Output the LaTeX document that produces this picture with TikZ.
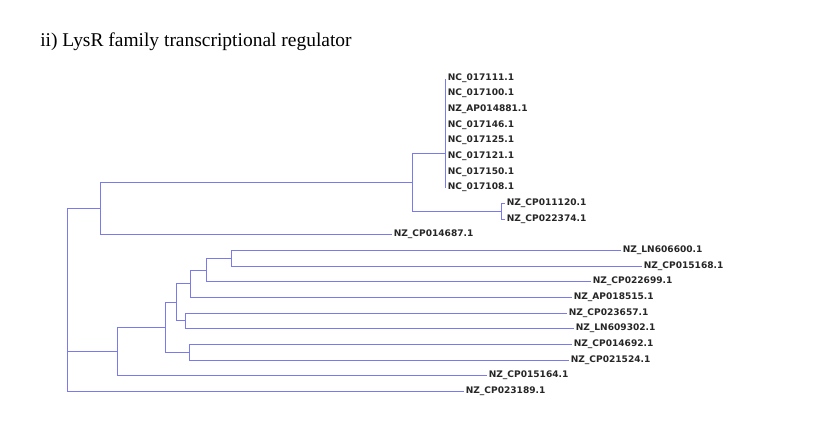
\documentclass[tikz,border=0pt]{standalone}
\usepackage{fontspec}
\setmainfont{Liberation Serif}
\newfontfamily\leaffont{DejaVu Sans}
\usetikzlibrary{positioning}
\definecolor{treeblue}{RGB}{122,122,234}
\tikzset{
  branch/.style={draw=treeblue, line width=1.1pt},
  leaflabel/.style={anchor=west, inner sep=1.5pt, text=black!85,
    font=\leaffont\bfseries\fontsize{6.8}{8}\selectfont},
  titlelabel/.style={anchor=base west, inner sep=0pt, font=\fontsize{14.6}{17}\selectfont}
}

\begin{document}
\begin{tikzpicture}[x=0.75pt, y=-0.75pt]
    \useasboundingbox (0,0) rectangle (831,429);
    \node[titlelabel] (title) at (40,46) {ii) LysR family transcriptional regulator};

    % inner nodes of the tree
    \coordinate (root) at (67.5,300.5);
    \coordinate (upper) at (100.5,208.5);
    \coordinate (cladeA) at (412.5,182.5);
    \coordinate (poly) at (445.5,153.5);
    \coordinate (cladeB) at (501.5,211.5);
    \coordinate (lower) at (117.5,351.5);
    \coordinate (cladeM) at (165.5,327.5);
    \coordinate (cladeN1) at (176.5,302.5);
    \coordinate (cladeN3) at (190.5,283.5);
    \coordinate (cladeN5) at (206.5,270.5);
    \coordinate (cladeN6) at (231.5,258.5);
    \coordinate (cladeN4) at (185.5,320.5);
    \coordinate (cladeN2) at (189.5,352.5);

    % collapsed group
    \foreach \lab/\yy [count=\k from 0] in {NC\_017111.1/78.5, NC\_017100.1/93.5,
        NZ\_AP014881.1/109.5, NC\_017146.1/125.5, NC\_017125.1/140.5,
        NC\_017121.1/156.5, NC\_017150.1/172.5, NC\_017108.1/187.5} {
      \node[leaflabel] (p\k) at (445.5,\yy) {\lab};
      \draw[branch] (poly) |- (p\k.west);
    }

    % leaves
    \node[leaflabel] (cp011120) at (504.5,203.5) {NZ\_CP011120.1};
    \node[leaflabel] (cp022374) at (504.5,219.5) {NZ\_CP022374.1};
    \node[leaflabel] (cp014687) at (391.5,234.5) {NZ\_CP014687.1};
    \node[leaflabel] (ln606600) at (620.5,250.5) {NZ\_LN606600.1};
    \node[leaflabel] (cp015168) at (641.5,266.5) {NZ\_CP015168.1};
    \node[leaflabel] (cp022699) at (590.5,281.5) {NZ\_CP022699.1};
    \node[leaflabel] (ap018515) at (571.5,297.5) {NZ\_AP018515.1};
    \node[leaflabel] (cp023657) at (566.5,313.5) {NZ\_CP023657.1};
    \node[leaflabel] (ln609302) at (573.5,328.5) {NZ\_LN609302.1};
    \node[leaflabel] (cp014692) at (571.5,344.5) {NZ\_CP014692.1};
    \node[leaflabel] (cp021524) at (568.5,360.5) {NZ\_CP021524.1};
    \node[leaflabel] (cp015164) at (486.5,375.5) {NZ\_CP015164.1};
    \node[leaflabel] (cp023189) at (463.5,391.5) {NZ\_CP023189.1};

    % branches
    \draw[branch] (root) |- (upper);
    \draw[branch] (root) |- (lower);
    \draw[branch] (root) |- (cp023189.west);
    \draw[branch] (upper) |- (cladeA);
    \draw[branch] (upper) |- (cp014687.west);
    \draw[branch] (cladeA) |- (poly);
    \draw[branch] (cladeA) |- (cladeB);
    \draw[branch] (cladeB) |- (cp011120.west);
    \draw[branch] (cladeB) |- (cp022374.west);
    \draw[branch] (lower) |- (cladeM);
    \draw[branch] (lower) |- (cp015164.west);
    \draw[branch] (cladeM) |- (cladeN1);
    \draw[branch] (cladeM) |- (cladeN2);
    \draw[branch] (cladeN1) |- (cladeN3);
    \draw[branch] (cladeN1) |- (cladeN4);
    \draw[branch] (cladeN3) |- (cladeN5);
    \draw[branch] (cladeN3) |- (ap018515.west);
    \draw[branch] (cladeN5) |- (cladeN6);
    \draw[branch] (cladeN5) |- (cp022699.west);
    \draw[branch] (cladeN6) |- (ln606600.west);
    \draw[branch] (cladeN6) |- (cp015168.west);
    \draw[branch] (cladeN4) |- (cp023657.west);
    \draw[branch] (cladeN4) |- (ln609302.west);
    \draw[branch] (cladeN2) |- (cp014692.west);
    \draw[branch] (cladeN2) |- (cp021524.west);
\end{tikzpicture}
\end{document}
